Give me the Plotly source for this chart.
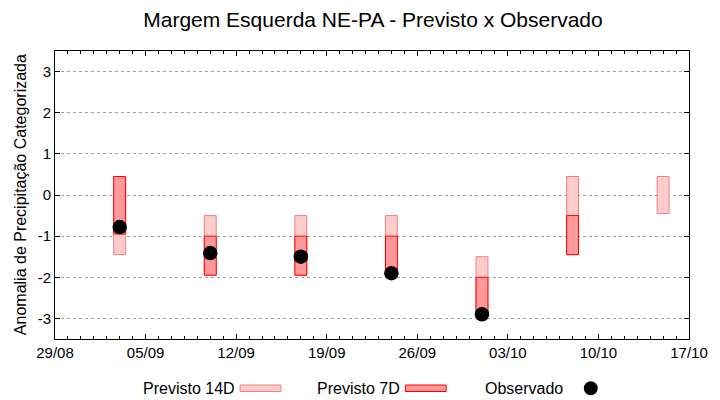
import plotly.graph_objects as go

# ---- data ----
dates = ["2023-09-03", "2023-09-10", "2023-09-17", "2023-09-24",
         "2023-10-01", "2023-10-08", "2023-10-15"]
p14_low = [-1.45, -1.95, -1.95, -1.95, -2.9, -1.45, -0.45]
p14_high = [0.45, -0.5, -0.5, -0.5, -1.5, 0.45, 0.45]
p7_dates = dates[:6]
p7_low = [-0.95, -1.95, -1.95, -1.95, -2.9, -1.45]
p7_high = [0.45, -1.0, -1.0, -1.0, -2.0, -0.5]
obs_dates = dates[:5]
obs_vals = [-0.78, -1.41, -1.5, -1.9, -2.9]
y_ticks = [-3, -2, -1, 0, 1, 2, 3]

FONT = "Liberation Sans"
W, H = 720, 400
L, R, T, B = 55, 28, 51, 61
PW, PH = W - L - R, H - T - B
DAY = 86400000
BAR_W = 0.92 * DAY

LIGHT_FILL, LIGHT_LINE = "#ffcccc", "#f08080"
DARK_FILL, DARK_LINE = "#ff9999", "#ff0000"


def px(x):
    return (x - L) / PW


def py(y):
    return (H - B - y) / PH


fig = go.Figure()
fig.add_trace(go.Bar(
    x=dates, y=[h - l for h, l in zip(p14_high, p14_low)], base=p14_low,
    width=BAR_W, marker=dict(color=LIGHT_FILL, line=dict(color=LIGHT_LINE, width=1)),
    name="Previsto 14D", showlegend=False))
fig.add_trace(go.Bar(
    x=p7_dates, y=[h - l for h, l in zip(p7_high, p7_low)], base=p7_low,
    width=BAR_W, marker=dict(color=DARK_FILL, line=dict(color=DARK_LINE, width=1)),
    name="Previsto 7D", showlegend=False))
fig.add_trace(go.Scatter(
    x=obs_dates, y=obs_vals, mode="markers",
    marker=dict(color="black", size=14.5), name="Observado", showlegend=False))

# ---- legend drawn gnuplot-style (text, then sample) ----
shapes = [
    dict(type="rect", xref="paper", yref="paper", x0=px(241), x1=px(282),
         y0=py(391.5), y1=py(385), fillcolor=LIGHT_FILL, line=dict(color=LIGHT_LINE, width=1)),
    dict(type="rect", xref="paper", yref="paper", x0=px(407), x1=px(448),
         y0=py(391.5), y1=py(385), fillcolor=DARK_FILL, line=dict(color=DARK_LINE, width=1)),
    dict(type="circle", xref="paper", yref="paper", x0=px(586.3), x1=px(600.3),
         y0=py(395.3), y1=py(381.3), fillcolor="black", line=dict(color="black", width=0)),
]
annotations = [
    dict(text="Previsto 14D", x=px(141), y=py(388), xref="paper", yref="paper",
         xanchor="left", yanchor="middle", showarrow=False, font=dict(size=16)),
    dict(text="Previsto 7D", x=px(316), y=py(388), xref="paper", yref="paper",
         xanchor="left", yanchor="middle", showarrow=False, font=dict(size=16)),
    dict(text="Observado", x=px(485), y=py(388), xref="paper", yref="paper",
         xanchor="left", yanchor="middle", showarrow=False, font=dict(size=16)),
    dict(text="Anomalia de Precipitação Categorizada", x=px(20), y=0.5,
         xref="paper", yref="paper", xanchor="center", yanchor="middle",
         textangle=-90, showarrow=False, font=dict(size=16)),
]

fig.update_layout(
    width=W, height=H, margin=dict(l=L, r=R, t=T, b=B),
    paper_bgcolor="white", plot_bgcolor="white",
    font=dict(family=FONT, color="black", size=15),
    barmode="overlay", showlegend=False,
    title=dict(text="Margem Esquerda NE-PA - Previsto x Observado",
               x=373 / W, xanchor="center", y=1 - 20 / H, yanchor="middle",
               font=dict(size=21, family=FONT, color="black")),
    shapes=shapes, annotations=annotations,
)
fig.update_xaxes(
    type="date", range=["2023-08-29", "2023-10-17"],
    tick0="2023-08-29", dtick=7 * DAY, tickformat="%d/%m",
    ticks="inside", ticklen=5, tickcolor="black", tickwidth=1,
    minor=dict(dtick=DAY, ticks="inside", ticklen=3, tickcolor="black", tickwidth=1),
    showline=True, linecolor="black", linewidth=1, mirror="allticks",
    showgrid=False, zeroline=False, tickfont=dict(size=15),
)
fig.update_yaxes(
    range=[-3.5, 3.5], tickvals=y_ticks, ticktext=[str(v) for v in y_ticks],
    ticks="inside", ticklen=5, tickcolor="black", tickwidth=1,
    showline=True, linecolor="black", linewidth=1, mirror="allticks",
    showgrid=True, gridcolor="#a0a0a0", griddash="dot", gridwidth=1,
    zeroline=False, tickfont=dict(size=15),
)

fig.write_html(
    "out.html",
    config={"displayModeBar": False},
    post_script="document.body.style.margin='0';document.body.style.padding='0';"
                "document.documentElement.style.overflow='hidden';",
)
